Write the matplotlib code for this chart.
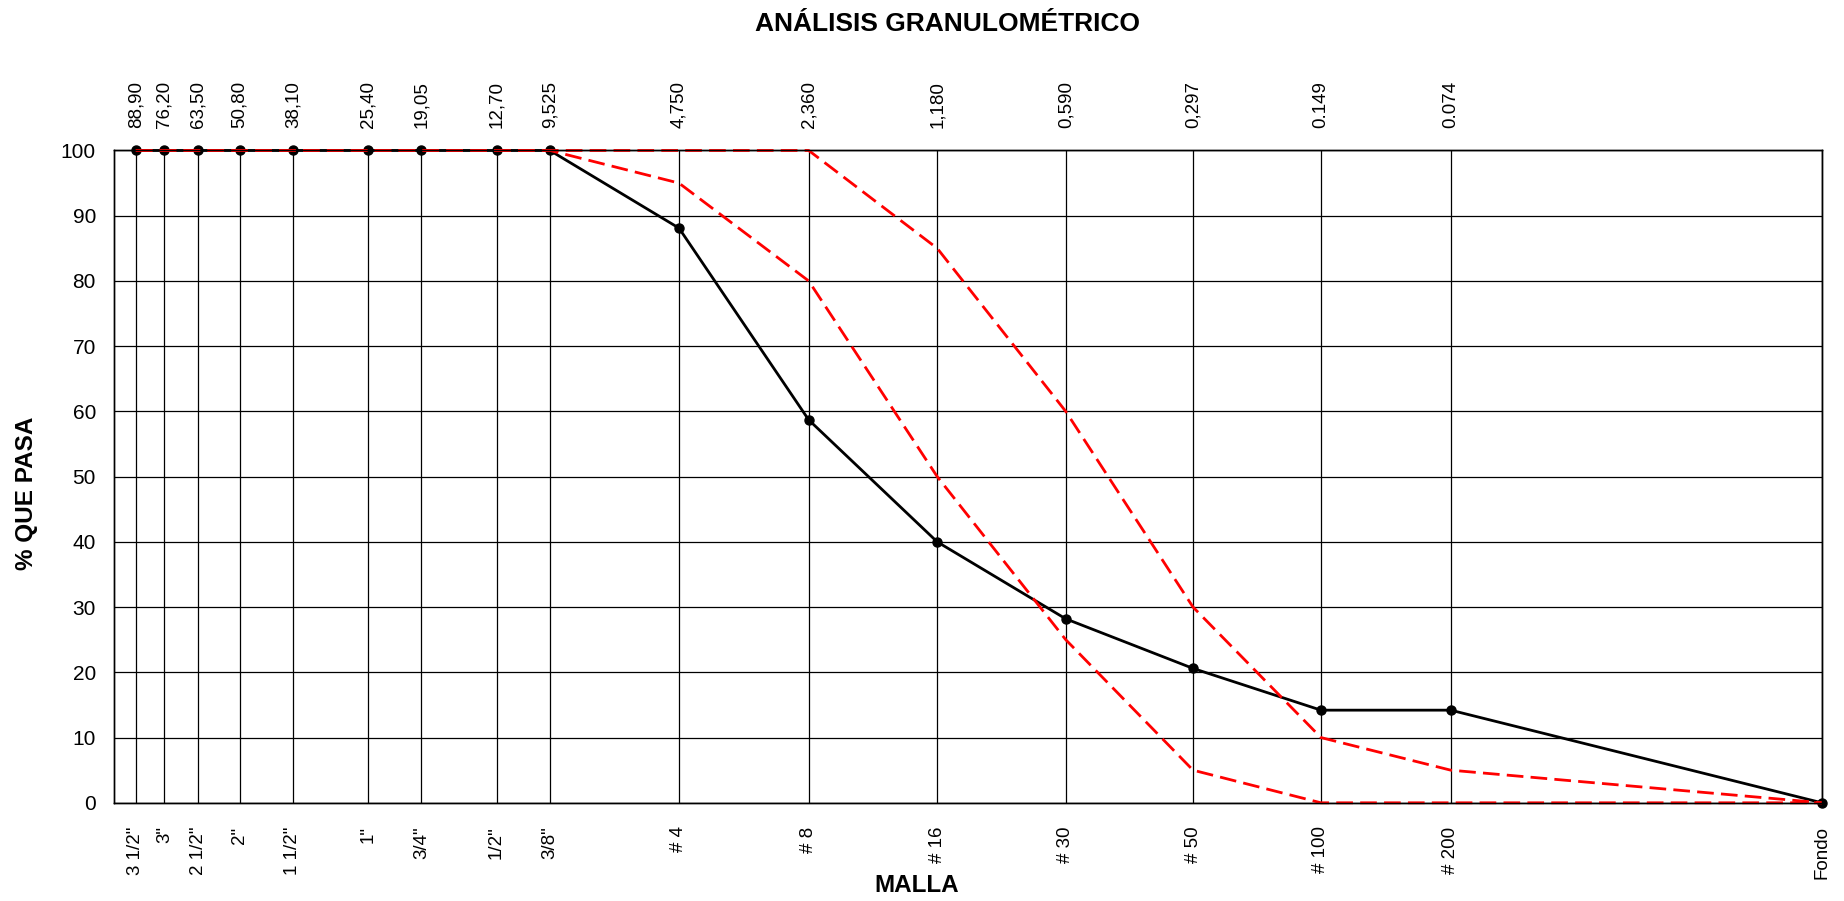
import numpy as np
import matplotlib
matplotlib.use("Agg")
import matplotlib.pyplot as plt
from matplotlib.ticker import NullLocator

# Sieve openings (mm); "Fondo" (pan) placed at 0.01 on the log axis
sizes = [88.9, 76.2, 63.5, 50.8, 38.1, 25.4, 19.05, 12.7, 9.525,
         4.75, 2.36, 1.18, 0.59, 0.297, 0.149, 0.074, 0.01]
mesh_labels = ['3 1/2"', '3"', '2 1/2"', '2"', '1 1/2"', '1"', '3/4"', '1/2"', '3/8"',
               '# 4', '# 8', '# 16', '# 30', '# 50', '# 100', '# 200', 'Fondo']
size_labels = ['88,90', '76,20', '63,50', '50,80', '38,10', '25,40', '19,05', '12,70', '9,525',
               '4,750', '2,360', '1,180', '0,590', '0,297', '0.149', '0.074']

passing = [100, 100, 100, 100, 100, 100, 100, 100, 100,
           88.1, 58.7, 40.0, 28.2, 20.6, 14.2, 14.2, 0]
lim_inf = [100, 100, 100, 100, 100, 100, 100, 100, 100,
           95, 80, 50, 25, 5, 0, 0, 0]
lim_sup = [100, 100, 100, 100, 100, 100, 100, 100, 100,
           100, 100, 85, 60, 30, 10, 5, 0]

plt.rcParams['font.family'] = ['Liberation Sans', 'DejaVu Sans']

fig = plt.figure(figsize=(18.44, 9.01), dpi=100)
ax = fig.add_subplot(111)
fig.subplots_adjust(left=0.0618, right=0.988, top=0.833, bottom=0.109)

ax.plot(sizes, passing, color='black', lw=2.0, marker='o', ms=6.5, clip_on=False, zorder=3)
ax.plot(sizes, lim_inf, color='#ff0000', lw=2.0, dashes=(6, 2.6), clip_on=False, zorder=4)
ax.plot(sizes, lim_sup, color='#ff0000', lw=2.0, dashes=(6, 2.6), clip_on=False, zorder=4)

ax.set_xscale('log')
ax.set_xlim(100, 0.01)
ax.set_ylim(0, 100)
ax.set_xticks(sizes)
ax.set_xticklabels(mesh_labels, rotation=90, va='top')
ax.xaxis.set_minor_locator(NullLocator())
ax.set_yticks(np.arange(0, 101, 10))
ax.tick_params(axis='x', length=0, pad=17, labelsize=13.5)
ax.tick_params(axis='y', length=0, pad=13, labelsize=15)
ax.grid(True, which='major', color='black', lw=0.9)
ax.set_axisbelow(True)

top = ax.twiny()
top.set_xscale('log')
top.set_xlim(ax.get_xlim())
top.set_xticks(sizes[:-1])
top.set_xticklabels(size_labels, rotation=90, va='bottom')
top.xaxis.set_minor_locator(NullLocator())
top.tick_params(axis='x', length=0, pad=16, labelsize=13.5)

for a in (ax, top):
    for s in a.spines.values():
        s.set_color('black')
        s.set_linewidth(1.0)

fig.text(0.5136, 0.973, 'ANÁLISIS GRANULOMÉTRICO', ha='center', va='center',
         fontsize=19, fontweight='bold')
fig.text(0.497, 0.017, 'MALLA', ha='center', va='center', fontsize=17.5, fontweight='bold')
fig.text(0.0145, 0.452, '% QUE PASA', ha='center', va='center', rotation=90,
         fontsize=17.5, fontweight='bold')

fig.savefig('out.png', dpi=100)
